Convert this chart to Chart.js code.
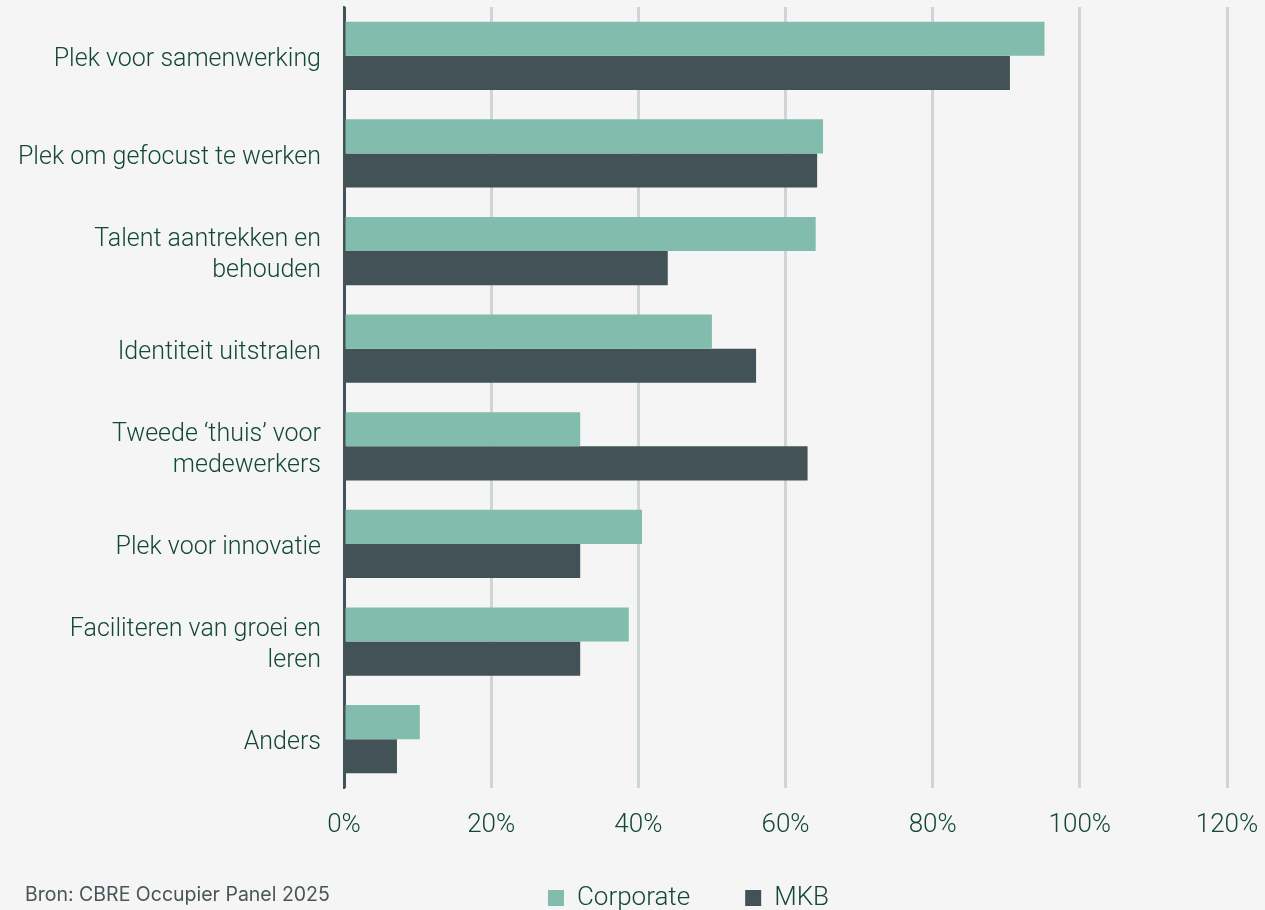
<!DOCTYPE html>
<html lang="nl">
<head>
  <meta charset="UTF-8">
  <script src="https://cdn.jsdelivr.net/npm/chart.js"></script>
  <title>Rol van het kantoor</title>
  <style>
    html, body { margin: 0; padding: 0; background: #f5f5f5; }
    #wrap { position: relative; width: 1265px; height: 910px; }
    #bron { position: absolute; left: 25px; top: 882px; font: 19.5px "Inter", "Roboto", sans-serif; color: #4a5558; }
  </style>
</head>
<body>
  <div id="wrap">
    <canvas id="myChart" width="1265" height="910"></canvas>
    <div id="bron">Bron: CBRE Occupier Panel 2025</div>
  </div>

  <script>
    // categorieen en percentages per groep
    const labels = [
      'Plek voor samenwerking',
      'Plek om gefocust te werken',
      ['Talent aantrekken en', 'behouden'],
      'Identiteit uitstralen',
      ['Tweede \u2018thuis\u2019 voor', 'medewerkers'],
      'Plek voor innovatie',
      ['Faciliteren van groei en', 'leren'],
      'Anders'
    ];
    const corporate = [95.2, 65.1, 64.1, 50.0, 32.1, 40.5, 38.7, 10.3];
    const mkb = [90.5, 64.3, 44.0, 56.0, 63.0, 32.1, 32.1, 7.2];
    const tickValues = [0, 20, 40, 60, 80, 100, 120];

    const green = '#12473a';
    const font = 'Roboto';

    // legenda iets lager en naar rechts zetten
    const legendShift = {
      id: 'legendShift',
      afterLayout(chart) {
        const lg = chart.legend;
        const pad = lg.options.labels.padding;
        const newTop = 897 - pad - 12;
        lg.bottom += newTop - lg.top;
        lg.top = newTop;
        lg.left += 56;
        lg.right += 56;
      }
    };

    const myChart = new Chart(document.getElementById('myChart'), {
      type: 'bar',
      data: {
        labels: labels,
        datasets: [{
          label: 'Corporate',
          backgroundColor: '#82bcad',
          data: corporate
        }, {
          label: 'MKB',
          backgroundColor: '#435256',
          data: mkb
        }]
      },
      options: {
        indexAxis: 'y',
        responsive: false,
        animation: false,
        // legenda is 26 + 55 + 10 hoog, x-as 60: onderkant plot op 788
        layout: { padding: { top: 7, right: 0, left: 0, bottom: -29 } },
        datasets: { bar: { categoryPercentage: 0.7, barPercentage: 1.0 } },
        scales: {
          x: {
            min: 0, max: 120,
            afterBuildTicks: (scale) => { scale.ticks = tickValues.map(v => ({ value: v })); },
            ticks: {
              color: green,
              font: { family: font, size: 26, weight: 300 },
              padding: 22,
              callback: (v) => v + '%'
            },
            grid: {
              color: (ctx) => ctx.tick && ctx.tick.value === 0 ? '#435256' : '#cfd5d5',
              lineWidth: 3,
              drawTicks: false
            },
            border: { display: false },
            afterFit: (scale) => {
              scale.height = 60;
              scale.paddingLeft = 0;
              scale.paddingRight = 38;
            }
          },
          y: {
            ticks: {
              color: green,
              font: { family: font, size: 25, weight: 300, lineHeight: 1.25 },
              padding: 15,
              labelOffset: 4
            },
            grid: { display: false },
            border: { display: true, color: '#435256', width: 2 },
            afterFit: (scale) => {
              scale.width = 344;
              scale.paddingTop = 0;
              scale.paddingBottom = 0;
            }
          }
        },
        plugins: {
          legend: {
            position: 'bottom',
            labels: {
              color: green,
              font: { family: font, size: 26, weight: 300 },
              boxWidth: 16,
              boxHeight: 16,
              padding: 55
            }
          },
          tooltip: { enabled: false }
        }
      },
      plugins: [legendShift]
    });
  </script>
</body>
</html>
